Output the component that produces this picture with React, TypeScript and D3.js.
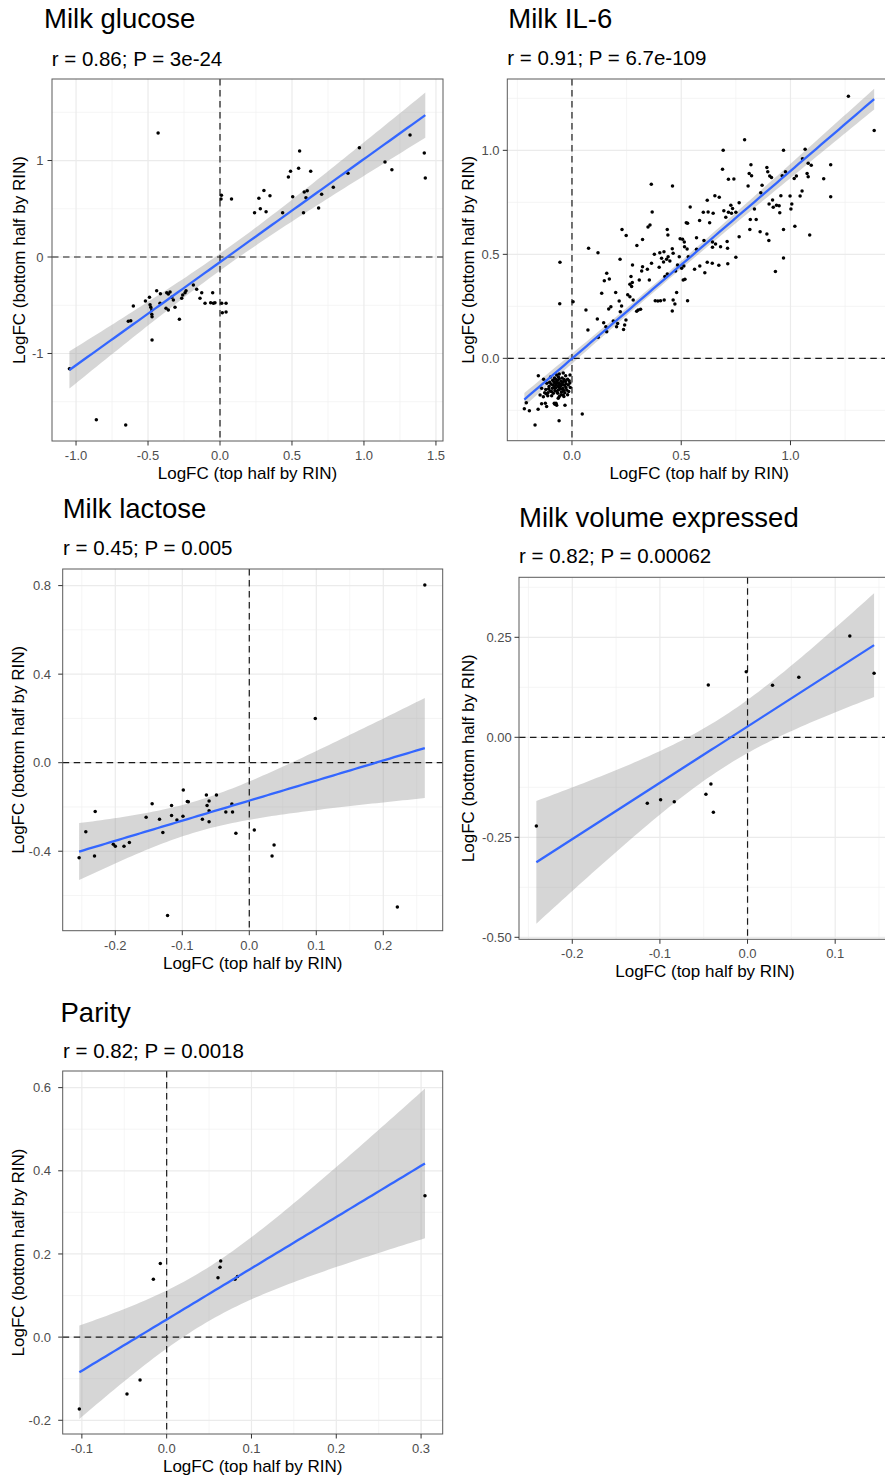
import React from 'react';
import * as d3 from 'd3';

const W = 885;
const H = 1475;
const FONT = '"Liberation Sans", Arial, Helvetica, sans-serif';

// ---------------- DATA ----------------
const titles = ['Milk glucose', 'Milk IL-6', 'Milk lactose', 'Milk volume expressed', 'Parity'];
const subtitles = [
  'r = 0.86; P = 3e-24',
  'r = 0.91; P = 6.7e-109',
  'r = 0.45; P = 0.005',
  'r = 0.82; P = 0.00062',
  'r = 0.82; P = 0.0018',
];
const xAxisTitle = 'LogFC (top half by RIN)';
const yAxisTitle = 'LogFC (bottom half by RIN)';

const glucosePoints: [number, number][] = [
  [-0.43, 1.285], [0.01, 0.64], [0.007, 0.6], [0.08, 0.6], [0.24, 0.46], [0.27, 0.61], [0.28, 0.5],
  [0.305, 0.69], [0.32, 0.47], [0.347, 0.635], [0.435, 0.46], [0.475, 0.83], [0.49, 0.89], [0.505, 0.625],
  [0.546, 0.92], [0.553, 1.1], [0.58, 0.46], [0.585, 0.674], [0.597, 0.615], [0.606, 0.687], [0.63, 0.888],
  [0.685, 0.508], [0.706, 0.65], [0.787, 0.722], [0.889, 0.867], [0.968, 1.133], [1.146, 0.985],
  [1.194, 0.905], [1.32, 1.264], [1.419, 1.078], [1.426, 0.819],
  [-1.046, -1.157], [-0.859, -1.686], [-0.655, -1.741], [-0.472, -0.86],
  [-0.602, -0.508], [-0.637, -0.667], [-0.62, -0.66], [-0.518, -0.456], [-0.49, -0.418], [-0.486, -0.494],
  [-0.481, -0.521], [-0.474, -0.549], [-0.474, -0.594], [-0.472, -0.618], [-0.44, -0.349], [-0.414, -0.38],
  [-0.417, -0.48], [-0.37, -0.37], [-0.359, -0.383], [-0.347, -0.363], [-0.336, -0.418], [-0.324, -0.446],
  [-0.375, -0.532], [-0.359, -0.549], [-0.3125, -0.522], [-0.282, -0.646], [-0.266, -0.428], [-0.259, -0.394],
  [-0.243, -0.37], [-0.236, -0.349], [-0.185, -0.29], [-0.162, -0.335], [-0.127, -0.37], [-0.139, -0.428],
  [-0.104, -0.48], [-0.051, -0.37], [-0.065, -0.473], [-0.046, -0.48], [-0.035, -0.473], [0.012, -0.48],
  [0.042, -0.48], [0.016, -0.577], [0.042, -0.57],
];

const il6Points: [number, number][] = [
  [1.265, 1.26], [1.383, 1.095], [0.79, 1.051], [0.692, 1.0], [0.968, 1.0], [1.067, 1.005], [1.055, 0.96],
  [1.081, 0.9375], [1.095, 0.928], [0.819, 0.931], [0.892, 0.917], [0.896, 0.897], [1.184, 0.931],
  [0.689, 0.909], [0.811, 0.889], [0.822, 0.878], [0.905, 0.877], [0.913, 0.869], [0.962, 0.878],
  [0.977, 0.897], [1.017, 0.865], [1.027, 0.877], [1.076, 0.889], [1.081, 0.873], [1.152, 0.864],
  [0.716, 0.861], [0.741, 0.862], [0.363, 0.837], [0.46, 0.829], [0.806, 0.829], [0.87, 0.832],
  [1.184, 0.777], [1.053, 0.804], [1.044, 0.78], [0.998, 0.78], [0.956, 0.782], [0.918, 0.761],
  [0.902, 0.742], [0.921, 0.726], [0.936, 0.736], [0.948, 0.734], [0.864, 0.796], [0.654, 0.782],
  [0.674, 0.774], [0.619, 0.76], [0.541, 0.728], [0.727, 0.736], [0.735, 0.72], [0.716, 0.702],
  [0.73, 0.697], [0.75, 0.702], [0.765, 0.748], [0.646, 0.697], [0.623, 0.704], [0.601, 0.702],
  [0.695, 0.71], [0.704, 0.678], [0.835, 0.718], [0.951, 0.7], [1.006, 0.742], [1.002, 0.718],
  [0.367, 0.704], [0.584, 0.663], [0.523, 0.652], [0.529, 0.649], [0.63, 0.652], [0.357, 0.641],
  [0.348, 0.631], [0.436, 0.62], [0.439, 0.593], [0.229, 0.619], [0.248, 0.59], [0.323, 0.571],
  [0.297, 0.542], [0.495, 0.575], [0.506, 0.572], [0.514, 0.559], [0.515, 0.537], [0.57, 0.58],
  [0.604, 0.566], [0.643, 0.559], [0.643, 0.534], [0.657, 0.55], [0.68, 0.537], [0.71, 0.562],
  [0.712, 0.529], [0.765, 0.585], [0.816, 0.668], [0.843, 0.667], [0.814, 0.62], [0.861, 0.609],
  [0.892, 0.598], [0.901, 0.566], [0.968, 0.62], [1.02, 0.635], [1.088, 0.593], [0.076, 0.529],
  [0.459, 0.527],
  [-0.055, 0.462], [0.119, 0.508], [-0.056, 0.263], [0.005, 0.272], [0.064, 0.232], [0.073, 0.136],
  [0.116, 0.189], [0.12, 0.101], [0.136, 0.3125], [0.148, 0.373], [0.159, 0.409], [0.171, 0.381],
  [0.145, 0.171], [0.155, 0.152], [0.159, 0.128], [0.168, 0.237], [0.178, 0.248], [0.189, 0.18],
  [0.204, 0.152], [0.209, 0.168], [0.221, 0.224], [0.2, 0.316], [0.216, 0.276], [0.227, 0.252],
  [0.236, 0.139], [0.241, 0.16], [0.247, 0.184], [0.22, 0.476], [0.255, 0.306], [0.265, 0.296],
  [0.28, 0.28], [0.265, 0.356], [0.273, 0.345], [0.276, 0.365], [0.27, 0.393], [0.277, 0.449],
  [0.296, 0.226], [0.303, 0.232], [0.314, 0.236], [0.308, 0.377], [0.319, 0.42], [0.323, 0.44],
  [0.345, 0.428], [0.354, 0.377], [0.364, 0.457], [0.377, 0.5], [0.381, 0.277], [0.393, 0.276],
  [0.405, 0.277], [0.399, 0.438], [0.41, 0.481], [0.419, 0.463], [0.433, 0.476], [0.44, 0.489],
  [0.448, 0.468], [0.402, 0.508], [0.421, 0.513], [0.463, 0.505], [0.491, 0.489], [0.422, 0.28],
  [0.425, 0.393], [0.436, 0.405], [0.459, 0.228], [0.463, 0.28], [0.471, 0.261], [0.479, 0.316],
  [0.474, 0.42], [0.483, 0.449], [0.502, 0.433], [0.512, 0.444], [0.509, 0.377], [0.517, 0.38],
  [0.529, 0.277], [0.532, 0.489], [0.561, 0.428], [0.585, 0.444], [0.608, 0.412], [0.619, 0.462],
  [0.642, 0.457], [0.57, 0.524], [0.527, 0.526], [0.672, 0.447], [0.713, 0.455], [0.75, 0.486],
  [0.931, 0.418], [0.968, 0.482],
  [0.047, -0.268], [-0.169, -0.321], [-0.059, -0.3], [-0.218, -0.242], [-0.195, -0.252], [-0.209, -0.213],
  [-0.155, -0.245], [-0.139, -0.218], [-0.122, -0.216], [-0.116, -0.232], [-0.081, -0.216], [-0.073, -0.216],
  [-0.058, -0.184], [-0.037, -0.184], [-0.078, -0.221], [-0.07, -0.225], [-0.032, -0.225],
  [-0.154, -0.084], [-0.029, -0.084], [-0.139, -0.144], [-0.146, -0.176], [-0.131, -0.185], [-0.111, -0.18],
  [-0.1, -0.157], [-0.09, -0.144], [-0.078, -0.12], [-0.07, -0.112], [-0.063, -0.136], [-0.055, -0.144],
  [-0.047, -0.128], [-0.04, -0.112], [-0.085, -0.168], [-0.07, -0.16], [-0.063, -0.192], [-0.04, -0.176],
  [-0.024, -0.152], [-0.017, -0.128], [-0.009, -0.08],
  [-0.075, -0.1], [-0.066, -0.105], [-0.058, -0.098], [-0.05, -0.11], [-0.045, -0.095], [-0.035, -0.13],
  [-0.03, -0.11], [-0.02, -0.1], [-0.095, -0.125], [-0.105, -0.135], [-0.12, -0.15], [-0.08, -0.14],
  [-0.06, -0.12], [-0.052, -0.132], [-0.042, -0.145], [-0.028, -0.14], [-0.015, -0.16], [-0.01, -0.118],
  [-0.088, -0.105], [-0.072, -0.128], [-0.062, -0.152], [-0.048, -0.162], [-0.033, -0.165], [-0.115, -0.12],
  [-0.13, -0.1], [-0.098, -0.09], [-0.058, -0.075], [-0.04, -0.07], [-0.11, -0.165], [-0.125, -0.165],
  [-0.093, -0.18], [-0.07, -0.08], [-0.078, -0.155], [-0.05, -0.175], [-0.02, -0.175], [-0.008, -0.14],
  [-0.083, -0.113], [-0.067, -0.118], [-0.056, -0.125], [-0.044, -0.118], [-0.036, -0.102], [-0.062, -0.09],
  [-0.086, -0.13], [-0.074, -0.142], [-0.052, -0.148], [-0.038, -0.155], [-0.107, -0.148], [-0.094, -0.16],
  [-0.065, -0.168], [-0.027, -0.122], [-0.013, -0.108], [-0.118, -0.17], [-0.102, -0.115], [-0.08, -0.095],
];

const lactosePoints: [number, number][] = [
  [0.262, 0.803], [0.0985, 0.2], [-0.254, -0.429], [-0.244, -0.312], [-0.23, -0.221], [-0.231, -0.422],
  [-0.203, -0.369], [-0.2, -0.378], [-0.187, -0.378], [-0.179, -0.36], [-0.154, -0.247], [-0.145, -0.185],
  [-0.134, -0.255], [-0.129, -0.315], [-0.122, -0.69], [-0.116, -0.193], [-0.116, -0.239], [-0.108, -0.259],
  [-0.099, -0.242], [-0.0985, -0.123], [-0.0925, -0.175], [-0.091, -0.176], [-0.07, -0.256], [-0.064, -0.146],
  [-0.063, -0.193], [-0.06, -0.173], [-0.06, -0.217], [-0.06, -0.267], [-0.049, -0.146], [-0.035, -0.223],
  [-0.026, -0.187], [-0.025, -0.223], [-0.02, -0.319], [0.0075, -0.304], [0.034, -0.422], [0.037, -0.372],
  [0.221, -0.652],
];

const volumePoints: [number, number][] = [
  [0.1167, 0.253], [0.1444, 0.16], [0.0585, 0.15], [0.0285, 0.13], [-0.0015, 0.164], [-0.0448, 0.131],
  [-0.241, -0.222], [-0.1144, -0.165], [-0.0992, -0.156], [-0.0836, -0.161], [-0.0475, -0.1425],
  [-0.0418, -0.1167], [-0.039, -0.1875],
];

const parityPoints: [number, number][] = [
  [0.3046, 0.34], [-0.103, -0.173], [-0.0468, -0.137], [-0.0314, -0.103], [-0.0157, 0.139],
  [-0.0075, 0.177], [0.0605, 0.143], [0.0629, 0.168], [0.0637, 0.183], [0.0806, 0.139], [0.0835, 0.146],
];

// tick values and labels
const glucoseXTicks = [-1.0, -0.5, 0, 0.5, 1.0, 1.5];
const glucoseXLabels = ['-1.0', '-0.5', '0.0', '0.5', '1.0', '1.5'];
const glucoseYTicks = [-1, 0, 1];
const glucoseYLabels = ['-1', '0', '1'];

const il6XTicks = [0, 0.5, 1.0];
const il6XLabels = ['0.0', '0.5', '1.0'];
const il6YTicks = [0, 0.5, 1.0];
const il6YLabels = ['0.0', '0.5', '1.0'];

const lactoseXTicks = [-0.2, -0.1, 0, 0.1, 0.2];
const lactoseXLabels = ['-0.2', '-0.1', '0.0', '0.1', '0.2'];
const lactoseYTicks = [-0.4, 0, 0.4, 0.8];
const lactoseYLabels = ['-0.4', '0.0', '0.4', '0.8'];

const volumeXTicks = [-0.2, -0.1, 0, 0.1];
const volumeXLabels = ['-0.2', '-0.1', '0.0', '0.1'];
const volumeYTicks = [-0.5, -0.25, 0, 0.25];
const volumeYLabels = ['-0.50', '-0.25', '0.00', '0.25'];

const parityXTicks = [-0.1, 0, 0.1, 0.2, 0.3];
const parityXLabels = ['-0.1', '0.0', '0.1', '0.2', '0.3'];
const parityYTicks = [-0.2, 0, 0.2, 0.4, 0.6];
const parityYLabels = ['-0.2', '0.0', '0.2', '0.4', '0.6'];

// ---------------- LAYOUT ----------------
type Cfg = {
  title: string; subtitle: string; points: [number, number][];
  xTicks: number[]; xLabels: string[]; yTicks: number[]; yLabels: string[];
  xDomain: [number, number]; yDomain: [number, number];
  l: number; t: number; r: number; b: number;
  titleX: number; titleY: number; subX: number; subY: number;
  yTitleX: number; yLabelRight: number;
};

const panels: Cfg[] = [
  {
    title: titles[0], subtitle: subtitles[0], points: glucosePoints,
    xTicks: glucoseXTicks, xLabels: glucoseXLabels, yTicks: glucoseYTicks, yLabels: glucoseYLabels,
    xDomain: [-1.167, 1.549], yDomain: [-1.907, 1.845],
    l: 52, t: 79, r: 443, b: 441,
    titleX: 44, titleY: 28.3, subX: 51.7, subY: 65.7, yTitleX: 19.5, yLabelRight: 43.5,
  },
  {
    title: titles[1], subtitle: subtitles[1], points: il6Points,
    xTicks: il6XTicks, xLabels: il6XLabels, yTicks: il6YTicks, yLabels: il6YLabels,
    xDomain: [-0.296, 1.46], yDomain: [-0.396, 1.343],
    l: 507.3, t: 79, r: 891, b: 440.7,
    titleX: 508.3, titleY: 28.3, subX: 507.3, subY: 65.3, yTitleX: 468, yLabelRight: 499.5,
  },
  {
    title: titles[2], subtitle: subtitles[2], points: lactosePoints,
    xTicks: lactoseXTicks, xLabels: lactoseXLabels, yTicks: lactoseYTicks, yLabels: lactoseYLabels,
    xDomain: [-0.2785, 0.2887], yDomain: [-0.759, 0.875],
    l: 62.7, t: 569, r: 442.7, b: 930.7,
    titleX: 62.7, titleY: 518.3, subX: 63, subY: 555, yTitleX: 18.3, yLabelRight: 51,
  },
  {
    title: titles[3], subtitle: subtitles[3], points: volumePoints,
    xTicks: volumeXTicks, xLabels: volumeXLabels, yTicks: volumeYTicks, yLabels: volumeYLabels,
    xDomain: [-0.2608, 0.1637], yDomain: [-0.505, 0.4],
    l: 519, t: 577.3, r: 891, b: 939.3,
    titleX: 519, titleY: 527.3, subX: 519, subY: 563.3, yTitleX: 468, yLabelRight: 511.7,
  },
  {
    title: titles[4], subtitle: subtitles[4], points: parityPoints,
    xTicks: parityXTicks, xLabels: parityXLabels, yTicks: parityYTicks, yLabels: parityYLabels,
    xDomain: [-0.1226, 0.3255], yDomain: [-0.233, 0.64],
    l: 62.7, t: 1071, r: 442.7, b: 1434,
    titleX: 60.5, titleY: 1021.7, subX: 63, subY: 1058.3, yTitleX: 18, yLabelRight: 51,
  },
];

// ---------------- STATS ----------------
function qt975(df: number): number {
  const z = 1.959964;
  const z3 = z ** 3, z5 = z ** 5, z7 = z ** 7, z9 = z ** 9;
  const g1 = (z3 + z) / 4;
  const g2 = (5 * z5 + 16 * z3 + 3 * z) / 96;
  const g3 = (3 * z7 + 19 * z5 + 17 * z3 - 15 * z) / 384;
  const g4 = (79 * z9 + 776 * z7 + 1482 * z5 - 1920 * z3 - 945 * z) / 92160;
  return z + g1 / df + g2 / df ** 2 + g3 / df ** 3 + g4 / df ** 4;
}

type FitPt = { x: number; fit: number; lo: number; hi: number };

function lmBand(points: [number, number][], steps = 80): FitPt[] {
  const n = points.length;
  const mx = d3.mean(points, (p) => p[0]) as number;
  const my = d3.mean(points, (p) => p[1]) as number;
  let sxx = 0, sxy = 0;
  points.forEach(([px, py]) => { sxx += (px - mx) ** 2; sxy += (px - mx) * (py - my); });
  const b = sxy / sxx;
  const a = my - b * mx;
  let sse = 0;
  points.forEach(([px, py]) => { sse += (py - (a + b * px)) ** 2; });
  const s = Math.sqrt(sse / (n - 2));
  const t = qt975(n - 2);
  const [x0, x1] = d3.extent(points, (p) => p[0]) as [number, number];
  return d3.range(steps).map((i) => {
    const x = x0 + (i * (x1 - x0)) / (steps - 1);
    const fit = a + b * x;
    const se = s * Math.sqrt(1 / n + (x - mx) ** 2 / sxx);
    return { x, fit, lo: fit - t * se, hi: fit + t * se };
  });
}

function minors(ticks: number[], domain: [number, number]): number[] {
  const step = ticks[1] - ticks[0];
  const out: number[] = [];
  for (let v = ticks[0] - step / 2; v <= ticks[ticks.length - 1] + step / 2 + 1e-9; v += step) {
    if (v >= domain[0] && v <= domain[1]) out.push(v);
  }
  return out;
}

// ---------------- DRAW ----------------
function Panel({ cfg, idx }: { cfg: Cfg; idx: number }) {
  const x = d3.scaleLinear().domain(cfg.xDomain).range([cfg.l, cfg.r]);
  const y = d3.scaleLinear().domain(cfg.yDomain).range([cfg.b, cfg.t]);
  const band = lmBand(cfg.points);
  const area = d3.area<FitPt>().x((d) => x(d.x)).y0((d) => y(d.lo)).y1((d) => y(d.hi));
  const line = d3.line<FitPt>().x((d) => x(d.x)).y((d) => y(d.fit));
  const clipId = `clip-${idx}`;
  const xMin = minors(cfg.xTicks, cfg.xDomain);
  const yMin = minors(cfg.yTicks, cfg.yDomain);
  const cx = (cfg.l + cfg.r) / 2;
  const cy = (cfg.t + cfg.b) / 2;
  return (
    <g>
      <defs>
        <clipPath id={clipId}>
          <rect x={cfg.l} y={cfg.t} width={cfg.r - cfg.l} height={cfg.b - cfg.t} />
        </clipPath>
      </defs>
      <text x={cfg.titleX} y={cfg.titleY} fontSize={27.5} fill="#000">{cfg.title}</text>
      <text x={cfg.subX} y={cfg.subY} fontSize={20.5} fill="#000">{cfg.subtitle}</text>
      <rect x={cfg.l} y={cfg.t} width={cfg.r - cfg.l} height={cfg.b - cfg.t} fill="#fff" />
      <g clipPath={`url(#${clipId})`}>
        {xMin.map((v, i) => (
          <line key={`xm${i}`} x1={x(v)} x2={x(v)} y1={cfg.t} y2={cfg.b} stroke="#f0f0f0" strokeWidth={0.7} />
        ))}
        {yMin.map((v, i) => (
          <line key={`ym${i}`} y1={y(v)} y2={y(v)} x1={cfg.l} x2={cfg.r} stroke="#f0f0f0" strokeWidth={0.7} />
        ))}
        {cfg.xTicks.map((v, i) => (
          <line key={`xg${i}`} x1={x(v)} x2={x(v)} y1={cfg.t} y2={cfg.b} stroke="#ebebeb" strokeWidth={1.2} />
        ))}
        {cfg.yTicks.map((v, i) => (
          <line key={`yg${i}`} y1={y(v)} y2={y(v)} x1={cfg.l} x2={cfg.r} stroke="#ebebeb" strokeWidth={1.2} />
        ))}
        <path d={area(band) || ''} fill="#999999" fillOpacity={0.4} />
        <line x1={x(0)} x2={x(0)} y1={cfg.t} y2={cfg.b} stroke="#1a1a1a" strokeWidth={1.2} strokeDasharray="6.5,4.5" />
        <line y1={y(0)} y2={y(0)} x1={cfg.l} x2={cfg.r} stroke="#1a1a1a" strokeWidth={1.2} strokeDasharray="6.5,4.5" />
        {cfg.points.map((p, i) => (
          <circle key={`p${i}`} cx={x(p[0])} cy={y(p[1])} r={1.75} fill="#000" />
        ))}
        <path d={line(band) || ''} fill="none" stroke="#3366FF" strokeWidth={2.3} />
      </g>
      <rect x={cfg.l} y={cfg.t} width={cfg.r - cfg.l} height={cfg.b - cfg.t} fill="none" stroke="#5a5a5a" strokeWidth={1} />
      {cfg.xTicks.map((v, i) => (
        <g key={`xt${i}`}>
          <line x1={x(v)} x2={x(v)} y1={cfg.b} y2={cfg.b + 4.5} stroke="#333" strokeWidth={1} />
          <text x={x(v)} y={cfg.b + 19} fontSize={13} fill="#4d4d4d" textAnchor="middle">{cfg.xLabels[i]}</text>
        </g>
      ))}
      {cfg.yTicks.map((v, i) => (
        <g key={`yt${i}`}>
          <line x1={cfg.l - 4.5} x2={cfg.l} y1={y(v)} y2={y(v)} stroke="#333" strokeWidth={1} />
          <text x={cfg.yLabelRight} y={y(v)} dy="0.35em" fontSize={13} fill="#4d4d4d" textAnchor="end">{cfg.yLabels[i]}</text>
        </g>
      ))}
      <text x={cx} y={cfg.b + 38} fontSize={17} fill="#000" textAnchor="middle">{xAxisTitle}</text>
      <text transform={`translate(${cfg.yTitleX},${cy}) rotate(-90)`} dy="0.35em" fontSize={17} fill="#000" textAnchor="middle">
        {yAxisTitle}
      </text>
    </g>
  );
}

export default function App() {
  return (
    <svg
      width={W}
      height={H}
      viewBox={`0 0 ${W} ${H}`}
      style={{ position: 'absolute', left: 0, top: 0, background: '#fff', fontFamily: FONT }}
    >
      <rect x={0} y={0} width={W} height={H} fill="#fff" />
      {panels.map((cfg, i) => (
        <Panel key={i} cfg={cfg} idx={i} />
      ))}
    </svg>
  );
}
